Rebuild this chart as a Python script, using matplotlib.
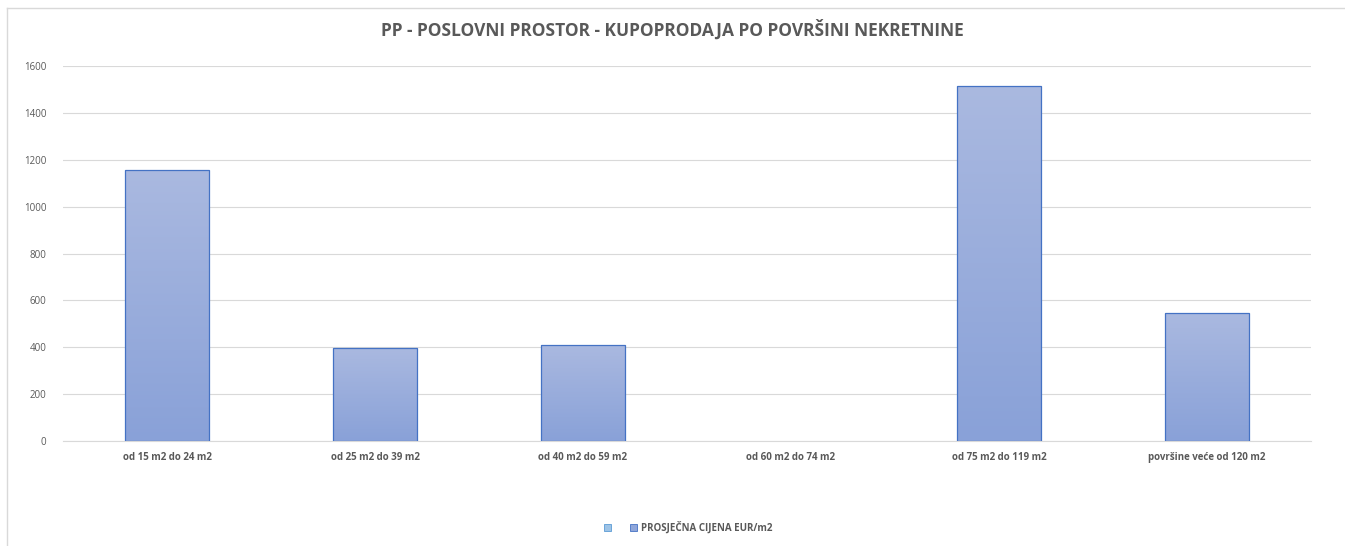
import matplotlib
matplotlib.use("Agg")
import matplotlib.pyplot as plt
import numpy as np
from matplotlib.patches import Rectangle, Patch
from matplotlib.lines import Line2D

categories = ["od 15 m2 do 24 m2", "od 25 m2 do 39 m2", "od 40 m2 do 59 m2",
              "od 60 m2 do 74 m2", "od 75 m2 do 119 m2", "površine veće od 120 m2"]
values = [1158, 398, 410, 0, 1515, 548]
yticks = [0, 200, 400, 600, 800, 1000, 1200, 1400, 1600]
title = "PP - POSLOVNI PROSTOR - KUPOPRODAJA PO POVRŠINI NEKRETNINE"
series_name = "PROSJEČNA CIJENA EUR/m2"

plt.rcParams['font.family'] = ['Open Sans', 'DejaVu Sans']
txt = '#595959'

fig = plt.figure(figsize=(13.45, 5.46), dpi=100)
# chart border (only top and left edges visible in the image)
fig.lines.append(Line2D([6.5/1345, 6.5/1345], [0, 1 - 7.5/546], transform=fig.transFigure,
                        color='#D9D9D9', linewidth=1))
fig.lines.append(Line2D([6.5/1345, 1], [1 - 7.5/546, 1 - 7.5/546], transform=fig.transFigure,
                        color='#D9D9D9', linewidth=1))
ax = fig.add_axes([63/1345, 1 - 441/546, (1311 - 63)/1345, (441 - 66)/546])

x = np.arange(len(categories))
bars = ax.bar(x, values, width=0.405, color='none', edgecolor='#4472C4', linewidth=0.9, zorder=3)

grad = np.linspace(0, 1, 256).reshape(-1, 1)
top_c = np.array([0xAA, 0xB9, 0xE0]) / 255
bot_c = np.array([0x89, 0xA1, 0xD8]) / 255
img = (top_c[None, None, :] * (1 - grad[:, :, None]) + bot_c[None, None, :] * grad[:, :, None])
for b in bars:
    h = b.get_height()
    if h <= 0:
        b.set_linewidth(0)
        continue
    x0 = b.get_x()
    w = b.get_width()
    im = ax.imshow(img, extent=[x0, x0 + w, 0, h], aspect='auto', origin='upper', zorder=2)
    clip = Rectangle((x0, 0), w, h, transform=ax.transData)
    im.set_clip_path(clip)

ax.set_xlim(-0.5, len(categories) - 0.5)
ax.set_ylim(0, 1600)
ax.set_yticks(yticks)
ax.set_yticklabels([str(t) for t in yticks], fontsize=7, color=txt)
ax.set_xticks(x)
ax.set_xticklabels(categories, fontsize=7, color=txt, fontweight='bold')
ax.tick_params(axis='both', length=0, pad=8)
ax.tick_params(axis='y', pad=12)
ax.grid(axis='y', color='#D9D9D9', linewidth=0.8, zorder=0)
for s in ['top', 'right', 'left']:
    ax.spines[s].set_visible(False)
ax.spines['bottom'].set_color('#D9D9D9')
ax.set_axisbelow(True)

fig.text(0.5, 1 - 30/546, title, ha='center', va='center', fontsize=12.5,
         fontweight='bold', color=txt)

handles = [Patch(facecolor='#9DC3E6', edgecolor='#5B9BD5', linewidth=0.6),
           Patch(facecolor='#8FA6DA', edgecolor='#4472C4', linewidth=0.6)]
leg = fig.legend(handles, ['', series_name], loc='center', bbox_to_anchor=(688/1345, 1 - 528/546),
                 ncol=2, frameon=False, fontsize=7, handlelength=0.7, handleheight=0.7,
                 columnspacing=1.6, handletextpad=0.4)
for t in leg.get_texts():
    t.set_color(txt)
    t.set_fontweight('bold')

fig.savefig('out.png', dpi=100)
